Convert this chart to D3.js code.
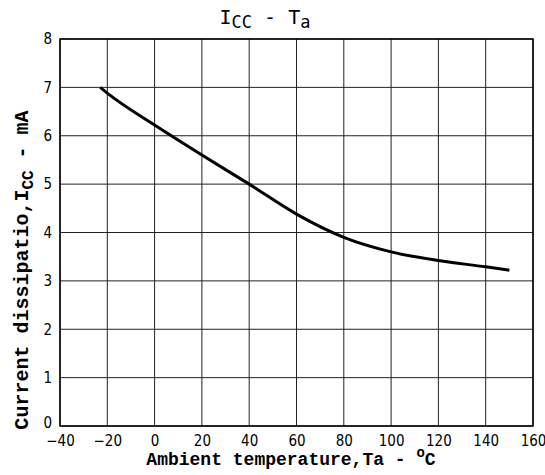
<!DOCTYPE html>
<html>
<head>
<meta charset="utf-8">
<script src="https://cdn.jsdelivr.net/npm/d3@7"></script>
<style>
  body { margin: 0; background: #fff; }
  .tick text { font-family: "DejaVu Sans Condensed", "DejaVu Sans", sans-serif; font-size: 15px; fill: #000; }
</style>
</head>
<body>
<div id="chart"></div>
<script>
// Icc vs Ta curve
var temps   = [-23, -20, 0, 20, 40, 60, 80, 100, 120, 140, 150];
var current = [7.0, 6.88, 6.22, 5.6, 5.0, 4.38, 3.9, 3.6, 3.42, 3.29, 3.22];
var xTicks = [-40, -20, 0, 20, 40, 60, 80, 100, 120, 140, 160];
var yTicks = [0, 1, 2, 3, 4, 5, 6, 7, 8];

var margin = {top: 39, right: 12, bottom: 49, left: 60},
    width = 545 - margin.left - margin.right,
    height = 475 - margin.top - margin.bottom;

var svg = d3.select("#chart").append("svg")
    .attr("width", 545)
    .attr("height", 475);

var g = svg.append("g")
    .attr("transform", "translate(" + margin.left + "," + margin.top + ")");

var x = d3.scaleLinear().domain([-40, 160]).range([0, width]);
var y = d3.scaleLinear().domain([0, 8]).range([height, 0]);

// grid
g.selectAll("line.vgrid").data(xTicks).enter().append("line")
    .attr("class", "vgrid")
    .attr("x1", d => x(d)).attr("x2", d => x(d))
    .attr("y1", 0).attr("y2", height)
    .attr("stroke", "#222").attr("stroke-width", 1);
g.selectAll("line.hgrid").data(yTicks).enter().append("line")
    .attr("class", "hgrid")
    .attr("x1", 0).attr("x2", width)
    .attr("y1", d => y(d)).attr("y2", d => y(d))
    .attr("stroke", "#222").attr("stroke-width", 1);

// frame
g.append("rect")
    .attr("width", width).attr("height", height)
    .attr("fill", "none").attr("stroke", "#000").attr("stroke-width", 1.5);

// axes (labels only)
var xAxis = g.append("g")
    .attr("transform", "translate(0," + height + ")")
    .call(d3.axisBottom(x).tickValues(xTicks).tickSize(0).tickPadding(9)
        .tickFormat(d => d < 0 ? "\u2212" + Math.abs(d) : d));
xAxis.select(".domain").remove();

var yAxis = g.append("g")
    .call(d3.axisLeft(y).tickValues(yTicks).tickSize(0).tickPadding(8));
yAxis.select(".domain").remove();
yAxis.selectAll(".tick").filter(d => d === 0).select("text").attr("dy", "0.1em");

// curve
var line = d3.line()
    .x((d, i) => x(temps[i]))
    .y(d => y(d))
    .curve(d3.curveMonotoneX);

g.append("path")
    .datum(current)
    .attr("d", line)
    .attr("fill", "none")
    .attr("stroke", "#000")
    .attr("stroke-width", 3);

// title
var title = svg.append("text")
    .attr("x", 265).attr("y", 24)
    .attr("text-anchor", "middle")
    .style("font-family", "'DejaVu Sans Mono', monospace")
    .style("font-size", "20px");
title.append("tspan").text("I");
title.append("tspan").attr("dy", 4).style("font-size", "17px").text("CC");
title.append("tspan").attr("dy", -4).text(" - T");
title.append("tspan").attr("dy", 4).style("font-size", "17px").text("a");

// x label
var xl = svg.append("text")
    .attr("x", 291).attr("y", 465)
    .attr("text-anchor", "middle")
    .style("font-family", "'Liberation Mono', monospace")
    .style("font-weight", "bold")
    .style("font-size", "18px");
xl.append("tspan").text("Ambient temperature,Ta - ");
xl.append("tspan").attr("dy", -8).style("font-size", "14px").text("o");
xl.append("tspan").attr("dy", 8).text("C");

// y label
var yl = svg.append("text")
    .attr("transform", "translate(28," + 270 + ") rotate(-90)")
    .attr("text-anchor", "middle")
    .style("font-family", "'Liberation Mono', monospace")
    .style("font-weight", "bold")
    .style("font-size", "20px");
yl.append("tspan").text("Current dissipatio,I");
yl.append("tspan").attr("dy", 5).style("font-size", "16px").text("CC");
yl.append("tspan").attr("dy", -5).text(" - mA");
</script>
</body>
</html>
